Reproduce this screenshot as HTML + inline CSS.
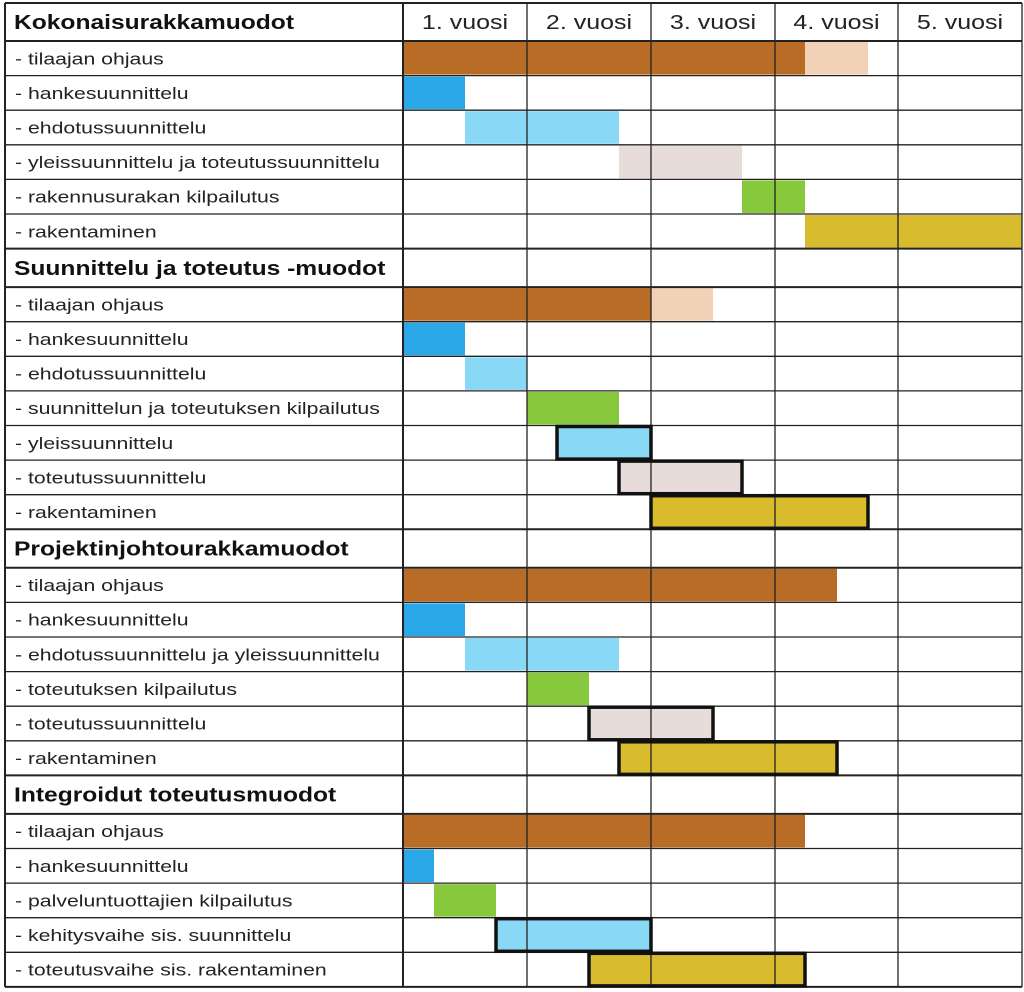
<!DOCTYPE html>
<html><head><meta charset="utf-8"><style>
html,body{margin:0;padding:0;background:#fff}
svg{display:block}
text{font-family:"Liberation Sans",sans-serif}
</style></head><body>
<svg width="1024" height="992" xmlns="http://www.w3.org/2000/svg" id="s"></svg>
<script>
const S=document.getElementById('s');const NS='http://www.w3.org/2000/svg';
function el(t,a,txt){const e=document.createElementNS(NS,t);for(const k in a)e.setAttribute(k,a[k]);if(txt)e.textContent=txt;S.appendChild(e);return e;}
const cols=[403,527,651,775,898,1022];
const rows=[
 ['H','Kokonaisurakkamuodot',[]],
 ['r','- tilaajan ohjaus',[[403,805,'#b86c26'],[805,868,'#f1d2b6']]],
 ['r','- hankesuunnittelu',[[403,465,'#2aa7e6']]],
 ['r','- ehdotussuunnittelu',[[465,619,'#88d8f6']]],
 ['r','- yleissuunnittelu ja toteutussuunnittelu',[[619,742,'#e8dcda']]],
 ['r','- rakennusurakan kilpailutus',[[742,805,'#88c83c']]],
 ['r','- rakentaminen',[[805,1022,'#d9bb2e']]],
 ['H','Suunnittelu ja toteutus -muodot',[]],
 ['r','- tilaajan ohjaus',[[403,651,'#b86c26'],[651,713,'#f1d2b6']]],
 ['r','- hankesuunnittelu',[[403,465,'#2aa7e6']]],
 ['r','- ehdotussuunnittelu',[[465,527,'#88d8f6']]],
 ['r','- suunnittelun ja toteutuksen kilpailutus',[[527,619,'#88c83c']]],
 ['r','- yleissuunnittelu',[[557,651,'#88d8f6',1]]],
 ['r','- toteutussuunnittelu',[[619,742,'#e8dcda',1]]],
 ['r','- rakentaminen',[[651,868,'#d9bb2e',1]]],
 ['H','Projektinjohtourakkamuodot',[]],
 ['r','- tilaajan ohjaus',[[403,837,'#b86c26']]],
 ['r','- hankesuunnittelu',[[403,465,'#2aa7e6']]],
 ['r','- ehdotussuunnittelu ja yleissuunnittelu',[[465,619,'#88d8f6']]],
 ['r','- toteutuksen kilpailutus',[[527,589,'#88c83c']]],
 ['r','- toteutussuunnittelu',[[589,713,'#e8dcda',1]]],
 ['r','- rakentaminen',[[619,837,'#d9bb2e',1]]],
 ['H','Integroidut toteutusmuodot',[]],
 ['r','- tilaajan ohjaus',[[403,805,'#b86c26']]],
 ['r','- hankesuunnittelu',[[403,434,'#2aa7e6']]],
 ['r','- palveluntuottajien kilpailutus',[[434,496,'#88c83c']]],
 ['r','- kehitysvaihe sis. suunnittelu',[[496,651,'#88d8f6',1]]],
 ['r','- toteutusvaihe sis. rakentaminen',[[589,805,'#d9bb2e',1]]],
];
let y=3;const ys=[];
rows.forEach((r,i)=>{const h=(i==0)?38:(r[0]=='H'?38.5:34.6);ys.push([y,y+h]);y+=h;});
rows.forEach((r,i)=>{const [a,b]=ys[i];r[2].forEach(bar=>{el('rect',{x:bar[0],y:a+1,width:bar[1]-bar[0],height:b-a-2,fill:bar[2]});});});
ys.forEach(([a,b],i)=>{el('line',{x1:5,x2:1022,y1:a,y2:a,stroke:'#222','stroke-width':(i==0||rows[i][0]=='H'||(i>0&&rows[i-1][0]=='H'))?2:1.3});});
const yb=ys[ys.length-1][1];
el('line',{x1:5,x2:1022,y1:yb,y2:yb,stroke:'#222','stroke-width':2});
el('line',{x1:5,x2:5,y1:3,y2:yb,stroke:'#222','stroke-width':2});
cols.forEach((x,i)=>el('line',{x1:x,x2:x,y1:3,y2:yb,stroke:'#222','stroke-width':i==0?2:1.3}));
rows.forEach((r,i)=>{const [a,b]=ys[i];r[2].forEach(bar=>{if(bar[3])el('rect',{x:bar[0],y:a+1,width:bar[1]-bar[0],height:b-a-2,fill:'none',stroke:'#111','stroke-width':3.5});});});
rows.forEach((r,i)=>{const [a,b]=ys[i];const m=(a+b)/2;
 if(r[0]=='H')el('text',{transform:`translate(14,${m+7}) scale(1.2,1)`,'font-size':20.5,'font-weight':'bold',fill:'#111'},r[1]);
 else el('text',{transform:`translate(15,${m+6}) scale(1.25,1)`,'font-size':17,fill:'#222'},r[1]);});
['1. vuosi','2. vuosi','3. vuosi','4. vuosi','5. vuosi'].forEach((t,i)=>el('text',{transform:`translate(${(cols[i]+cols[i+1])/2},29) scale(1.22,1)`,'font-size':20.5,'text-anchor':'middle',fill:'#222'},t));
</script>
</body></html>
